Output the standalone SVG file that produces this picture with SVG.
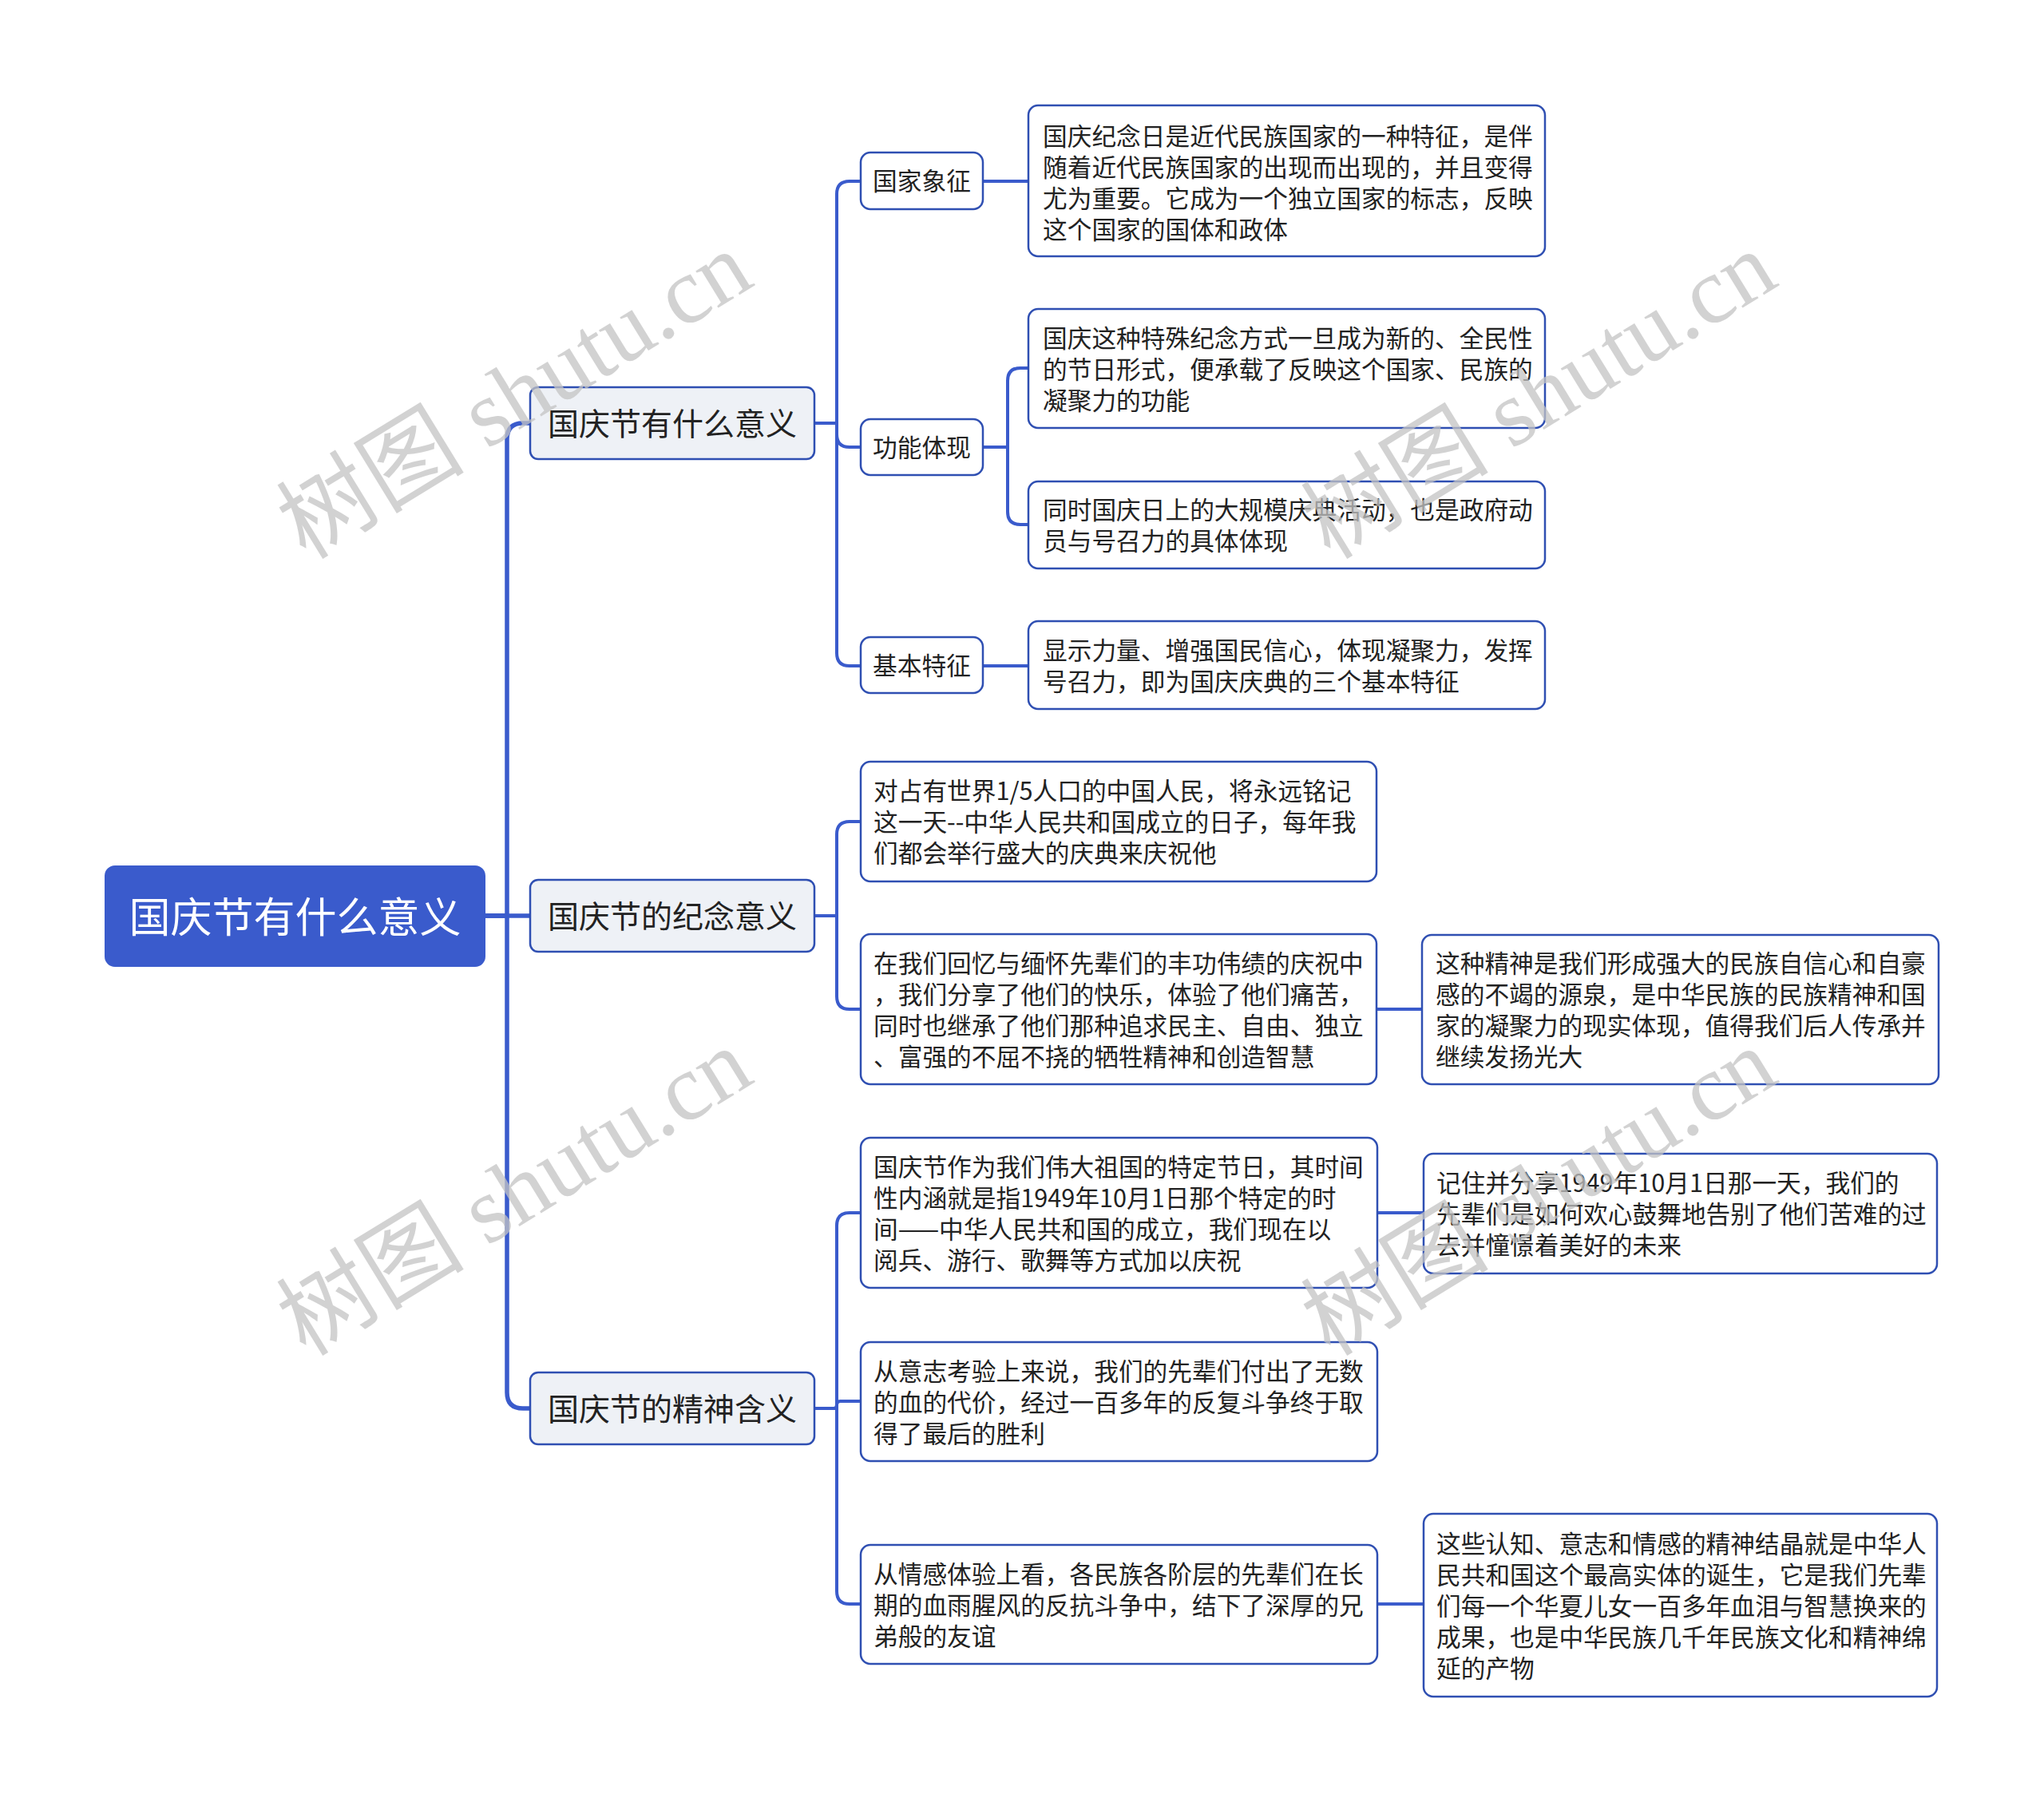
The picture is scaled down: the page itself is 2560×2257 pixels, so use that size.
<svg xmlns="http://www.w3.org/2000/svg" width="2560" height="2257" viewBox="0 0 2560 2257">
<style>
.box{fill:#fff;stroke:#2f4fb2;stroke-width:2.5}
.l1{fill:#eef1f6;stroke:#2f4fb2;stroke-width:2.5}
.root{fill:#3a5bcc;stroke:#3a5bcc;stroke-width:2}
.t{font-family:"Noto Sans CJK SC","Noto Sans",sans-serif;font-size:30.7px;fill:#222;dominant-baseline:central}
.t1{font-family:"Noto Sans CJK SC","Noto Sans",sans-serif;font-size:39px;fill:#222;dominant-baseline:central;text-anchor:middle}
.tr{font-family:"Noto Sans CJK SC","Noto Sans",sans-serif;font-size:52px;fill:#fff;dominant-baseline:central;text-anchor:middle}
.tc{text-anchor:middle}
.c{fill:none;stroke:#3a5bcc;stroke-width:4;stroke-linecap:round;stroke-linejoin:round}
.c0{stroke-width:5.5}
.wm{font-family:"Liberation Serif","Noto Sans CJK SC",serif;font-size:118px;fill:#c4c4c4;opacity:0.75}
</style>
<rect width="2560" height="2257" fill="#fff"/>
<g id="connectors">
<path class="c c0" d="M607 1147 H635 V550 Q635 530 655 530 H664"/>
<path class="c c0" d="M607 1147 H664"/>
<path class="c c0" d="M607 1147 H635 V1744 Q635 1764 655 1764 H664"/>
<path class="c" d="M1020 530 H1048 V243 Q1048 227 1064 227 H1078"/>
<path class="c" d="M1020 530 H1048 V544 Q1048 560 1064 560 H1078"/>
<path class="c" d="M1020 530 H1048 V818 Q1048 834 1064 834 H1078"/>
<path class="c" d="M1020 1147 H1048 V1045 Q1048 1029 1064 1029 H1078"/>
<path class="c" d="M1020 1147 H1048 V1248 Q1048 1264 1064 1264 H1078"/>
<path class="c" d="M1020 1764 H1048 V1535 Q1048 1519 1064 1519 H1078"/>
<path class="c" d="M1020 1764 H1044 Q1048 1764 1048 1759.5 Q1048 1755 1052 1755 H1078"/>
<path class="c" d="M1020 1764 H1048 V1993 Q1048 2009 1064 2009 H1078"/>
<path class="c" d="M1231 227 H1288"/>
<path class="c" d="M1231 560 H1262 V477 Q1262 461 1278 461 H1288"/>
<path class="c" d="M1231 560 H1262 V641 Q1262 657 1278 657 H1288"/>
<path class="c" d="M1231 834 H1288"/>
<path class="c" d="M1724 1264 H1781"/>
<path class="c" d="M1725 1519 H1783"/>
<path class="c" d="M1725 2009 H1783"/>
</g>
<g id="root">
<rect class="root" x="132" y="1085" width="475" height="125" rx="12"/>
<text class="tr" x="369.5" y="1145">国庆节有什么意义</text>
</g>
<g id="n1">
<rect class="l1" x="664" y="485" width="356" height="90" rx="10"/>
<text class="t1" x="842" y="528">国庆节有什么意义</text>
</g>
<g id="n2">
<rect class="l1" x="664" y="1102" width="356" height="90" rx="10"/>
<text class="t1" x="842" y="1145">国庆节的纪念意义</text>
</g>
<g id="n3">
<rect class="l1" x="664" y="1719" width="356" height="90" rx="10"/>
<text class="t1" x="842" y="1762">国庆节的精神含义</text>
</g>
<g id="n1a">
<rect class="box" x="1078" y="191" width="153" height="71" rx="12"/>
<text class="t tc" x="1154.5" y="224">国家象征</text>
</g>
<g id="n1b">
<rect class="box" x="1078" y="525" width="153" height="70" rx="12"/>
<text class="t tc" x="1154.5" y="558">功能体现</text>
</g>
<g id="n1c">
<rect class="box" x="1078" y="798" width="153" height="70" rx="12"/>
<text class="t tc" x="1154.5" y="831">基本特征</text>
</g>
<g id="leaf1a">
<rect class="box" x="1288" y="132" width="647" height="189" rx="12"/>
<text class="t"><tspan x="1306" y="168">国庆纪念日是近代民族国家的一种特征，是伴</tspan><tspan x="1306" y="207">随着近代民族国家的出现而出现的，并且变得</tspan><tspan x="1306" y="246">尤为重要。它成为一个独立国家的标志，反映</tspan><tspan x="1306" y="285">这个国家的国体和政体</tspan></text>
</g>
<g id="leaf1b1">
<rect class="box" x="1288" y="387" width="647" height="149" rx="12"/>
<text class="t"><tspan x="1306" y="420.5">国庆这种特殊纪念方式一旦成为新的、全民性</tspan><tspan x="1306" y="459.5">的节日形式，便承载了反映这个国家、民族的</tspan><tspan x="1306" y="498.5">凝聚力的功能</tspan></text>
</g>
<g id="leaf1b2">
<rect class="box" x="1288" y="603" width="647" height="109" rx="12"/>
<text class="t"><tspan x="1306" y="636">同时国庆日上的大规模庆典活动，也是政府动</tspan><tspan x="1306" y="675">员与号召力的具体体现</tspan></text>
</g>
<g id="leaf1c">
<rect class="box" x="1288" y="778" width="647" height="110" rx="12"/>
<text class="t"><tspan x="1306" y="811.5">显示力量、增强国民信心，体现凝聚力，发挥</tspan><tspan x="1306" y="850.5">号召力，即为国庆庆典的三个基本特征</tspan></text>
</g>
<g id="leaf2a">
<rect class="box" x="1078" y="954" width="646" height="150" rx="12"/>
<text class="t"><tspan x="1094" y="988">对占有世界1/5人口的中国人民，将永远铭记</tspan><tspan x="1094" y="1027">这一天--中华人民共和国成立的日子，每年我</tspan><tspan x="1094" y="1066">们都会举行盛大的庆典来庆祝他</tspan></text>
</g>
<g id="leaf2b">
<rect class="box" x="1078" y="1170" width="646" height="188" rx="12"/>
<text class="t"><tspan x="1094" y="1203.5">在我们回忆与缅怀先辈们的丰功伟绩的庆祝中</tspan><tspan x="1094" y="1242.5">，我们分享了他们的快乐，体验了他们痛苦，</tspan><tspan x="1094" y="1281.5">同时也继承了他们那种追求民主、自由、独立</tspan><tspan x="1094" y="1320.5">、富强的不屈不挠的牺牲精神和创造智慧</tspan></text>
</g>
<g id="leaf2b1">
<rect class="box" x="1781" y="1171" width="647" height="187" rx="12"/>
<text class="t"><tspan x="1798" y="1203.5">这种精神是我们形成强大的民族自信心和自豪</tspan><tspan x="1798" y="1242.5">感的不竭的源泉，是中华民族的民族精神和国</tspan><tspan x="1798" y="1281.5">家的凝聚力的现实体现，值得我们后人传承并</tspan><tspan x="1798" y="1320.5">继续发扬光大</tspan></text>
</g>
<g id="leaf3a">
<rect class="box" x="1078" y="1425" width="647" height="188" rx="12"/>
<text class="t"><tspan x="1094" y="1458.5">国庆节作为我们伟大祖国的特定节日，其时间</tspan><tspan x="1094" y="1497.5">性内涵就是指1949年10月1日那个特定的时</tspan><tspan x="1094" y="1536.5">间——中华人民共和国的成立，我们现在以</tspan><tspan x="1094" y="1575.5">阅兵、游行、歌舞等方式加以庆祝</tspan></text>
</g>
<g id="leaf3a1">
<rect class="box" x="1783" y="1445" width="643" height="150" rx="12"/>
<text class="t"><tspan x="1799" y="1479">记住并分享1949年10月1日那一天，我们的</tspan><tspan x="1799" y="1518">先辈们是如何欢心鼓舞地告别了他们苦难的过</tspan><tspan x="1799" y="1557">去并憧憬着美好的未来</tspan></text>
</g>
<g id="leaf3b">
<rect class="box" x="1078" y="1681" width="647" height="149" rx="12"/>
<text class="t"><tspan x="1094" y="1714.5">从意志考验上来说，我们的先辈们付出了无数</tspan><tspan x="1094" y="1753.5">的血的代价，经过一百多年的反复斗争终于取</tspan><tspan x="1094" y="1792.5">得了最后的胜利</tspan></text>
</g>
<g id="leaf3c">
<rect class="box" x="1078" y="1935" width="647" height="149" rx="12"/>
<text class="t"><tspan x="1094" y="1968.5">从情感体验上看，各民族各阶层的先辈们在长</tspan><tspan x="1094" y="2007.5">期的血雨腥风的反抗斗争中，结下了深厚的兄</tspan><tspan x="1094" y="2046.5">弟般的友谊</tspan></text>
</g>
<g id="leaf3c1">
<rect class="box" x="1783" y="1896" width="643" height="229" rx="12"/>
<text class="t"><tspan x="1799" y="1930.5">这些认知、意志和情感的精神结晶就是中华人</tspan><tspan x="1799" y="1969.5">民共和国这个最高实体的诞生，它是我们先辈</tspan><tspan x="1799" y="2008.5">们每一个华夏儿女一百多年血泪与智慧换来的</tspan><tspan x="1799" y="2047.5">成果，也是中华民族几千年民族文化和精神绵</tspan><tspan x="1799" y="2086.5">延的产物</tspan></text>
</g>
<g id="watermarks">
<text class="wm" transform="translate(383 702) rotate(-31.5)">树图 shutu.cn</text>
<text class="wm" transform="translate(1666 702) rotate(-31.5)">树图 shutu.cn</text>
<text class="wm" transform="translate(383 1700) rotate(-31.5)">树图 shutu.cn</text>
<text class="wm" transform="translate(1666 1700) rotate(-31.5)">树图 shutu.cn</text>
</g>
</svg>
